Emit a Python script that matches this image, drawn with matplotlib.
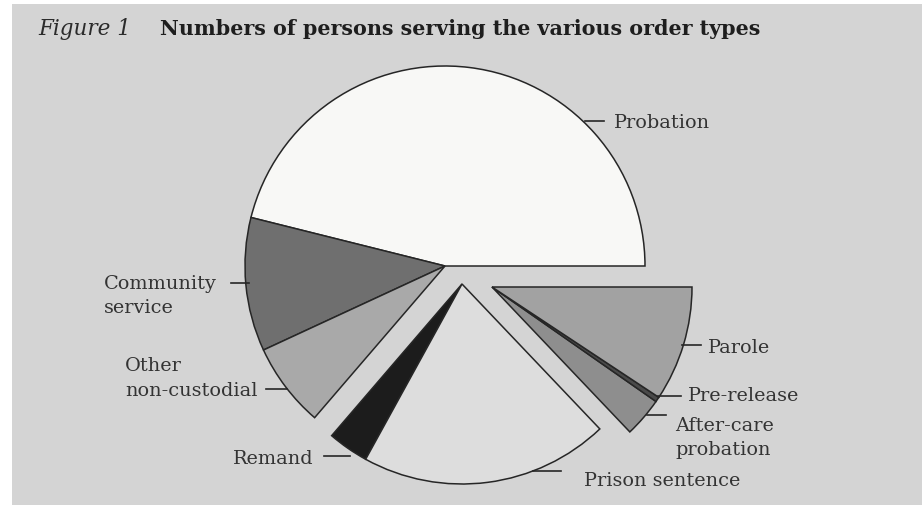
import matplotlib.pyplot as plt
from matplotlib.patches import Wedge, Rectangle

# ── Data ────────────────────────────────────────────────────────────────────
order_types = ["Probation", "Community service", "Other non-custodial",
               "Remand", "Prison sentence", "After-care probation",
               "Pre-release", "Parole"]
shares = [46.1, 10.8, 6.8, 3.3, 20.1, 3.2, 0.4, 9.3]   # percent of persons
groups = [0, 0, 0, 1, 1, 2, 2, 2]                      # slices pulled out together

# ── Style / layout ──────────────────────────────────────────────────────────
W, H = 922, 506
BG = "#d4d4d4"
EDGE = "#262626"
fills = ["#f8f8f6", "#6f6f6f", "#a9a9a9", "#1c1c1c",
         "#dddddd", "#8e8e8e", "#4a4a4a", "#a2a2a2"]
# group centres in pixels from top-left
centres = {0: (445, 267), 1: (462, 285), 2: (492, 288)}
RADIUS = 200

# label text: (lines, x, y of first line, line step, align), leader: (x0, x1, y)
labels = {
    "Probation":            (["Probation"], 614, 123, 0, "left", (585, 604, 122)),
    "Community service":    (["Community", "service"], 104, 284, 24, "left", (231, 249, 284)),
    "Other non-custodial":  (["Other", "non-custodial"], 125, 366, 25, "left", (266, 287, 390)),
    "Remand":               (["Remand"], 314, 459, 0, "right", (324, 350, 457)),
    "Prison sentence":      (["Prison sentence"], 584, 481, 0, "left", (533, 561, 472)),
    "Parole":               (["Parole"], 708, 348, 0, "left", (682, 701, 346)),
    "Pre-release":          (["Pre-release"], 688, 396, 0, "left", (658, 681, 397)),
    "After-care probation": (["After-care", "probation"], 675, 426, 24, "left", (647, 666, 416)),
}

SERIF = ["DejaVu Serif"]


def py(y):
    """Convert a pixel row (from top) into axis units (from bottom)."""
    return H - y


def main():
    fig = plt.figure(figsize=(W / 100, H / 100), dpi=100, facecolor="white")
    ax = fig.add_axes([0, 0, 1, 1])
    ax.set_xlim(0, W)
    ax.set_ylim(0, H)
    ax.set_axis_off()

    ax.add_patch(Rectangle((12, 0), W - 12, H - 5, facecolor=BG,
                           edgecolor="none", zorder=0))

    # wedges, angles counter-clockwise from 3 o'clock
    total = sum(shares)
    start = 0.0
    for name, val, grp, col in zip(order_types, shares, groups, fills):
        span = 360.0 * val / total
        cx, cy = centres[grp]
        ax.add_patch(Wedge((cx, py(cy)), RADIUS, start, start + span,
                           facecolor=col, edgecolor=EDGE, linewidth=1.1,
                           zorder=2))
        start += span

    for name in order_types:
        lines, tx, ty, step, align, (x0, x1, ly) = labels[name]
        ax.plot([x0, x1], [py(ly), py(ly)], color=EDGE, lw=1.2, zorder=3)
        for i, line in enumerate(lines):
            ax.text(tx, py(ty + i * step), line, family=SERIF, fontsize=13.9,
                    color="#333333", ha=align, va="center", zorder=3)

    ax.text(38, py(29), "Figure 1", family=SERIF, style="italic",
            fontsize=15.5, color="#2b2b2b", ha="left", va="center")
    ax.text(160, py(29), "Numbers of persons serving the various order types",
            family=SERIF, weight="bold", fontsize=14.9, color="#1e1e1e",
            ha="left", va="center")

    fig.savefig("out.png", dpi=100, facecolor="white")
    plt.close(fig)


if __name__ == "__main__":
    main()
